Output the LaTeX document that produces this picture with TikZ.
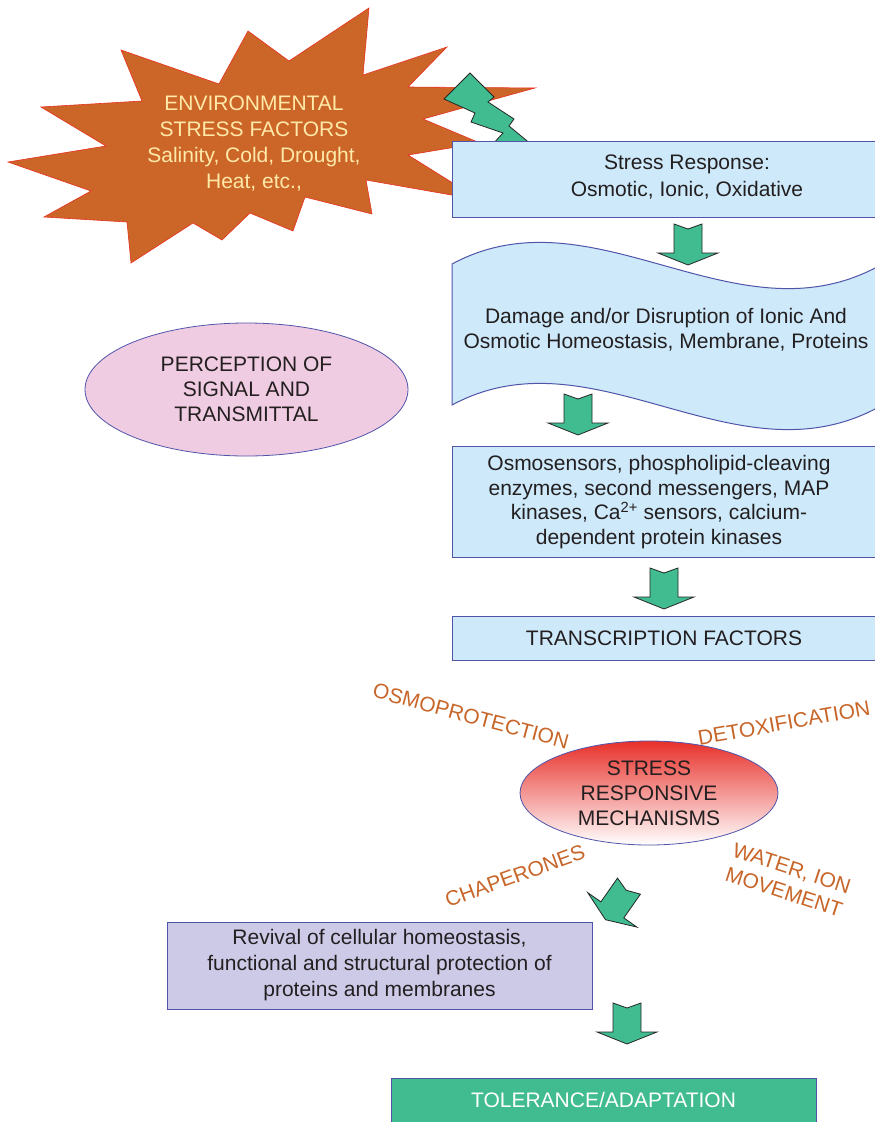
\documentclass[tikz,border=0pt]{standalone}
\usepackage{fontspec}
\setmainfont{Liberation Sans}
\usetikzlibrary{shapes.geometric}
\definecolor{boxblue}{RGB}{205,233,250}
\definecolor{edgeblue}{RGB}{80,85,170}
\definecolor{arrowgreen}{RGB}{64,188,144}
\definecolor{burst}{RGB}{204,102,40}
\definecolor{burstedge}{RGB}{232,48,32}
\definecolor{bursttext}{RGB}{255,233,168}
\definecolor{labelorange}{RGB}{200,102,42}
\definecolor{pinkfill}{RGB}{240,204,226}
\definecolor{lavender}{RGB}{205,202,232}
\definecolor{textgray}{RGB}{35,31,32}
\definecolor{gradred}{RGB}{232,48,42}
\definecolor{gradmid}{RGB}{243,150,125}
\tikzset{
  txt/.style={align=center, text=textgray, font=\fontsize{21}{25}\selectfont, inner sep=0pt},
  bluebox/.style={draw=edgeblue, fill=boxblue, line width=1pt, inner sep=0pt},
  blockarrow/.style={draw=black!85, fill=arrowgreen, line width=0.8pt, line join=miter},
  lbl/.style={text=labelorange, font=\fontsize{21}{25}\selectfont, align=center, inner sep=0pt},
}
\newcommand{\greenarrow}[3]{%
  \draw[blockarrow, shift={(#1,#2)}, rotate=#3]
    (-14,-20) -- (0,-15) -- (14,-20) -- (14,9) -- (30,9) -- (0,21) -- (-30,9) -- (-14,9) -- cycle;}
\begin{document}
\begin{tikzpicture}[x=1pt,y=-1pt]
\useasboundingbox (0,0) rectangle (875,1122);
\clip (0,0) rectangle (875,1122);
\fill[white] (0,0) rectangle (875,1122);

% starburst
\draw[fill=burst, draw=burstedge, line width=0.6pt]
  (369,8) -- (363,75) -- (447,47) -- (408,87) -- (535,88) -- (423,119) -- (480,143)
  -- (408,155) -- (480,200) -- (366,180) -- (372,214) -- (305,197) -- (293,231)
  -- (250,213) -- (222,240) -- (193,223) -- (131,263) -- (127,222) -- (44,217)
  -- (91,191) -- (8,162) -- (106,146) -- (41,107) -- (142,101) -- (121,50)
  -- (219,84) -- (248,31) -- (289,61) -- cycle;
\node[txt, text=bursttext, font=\fontsize{21}{26}\selectfont] (env) at (254,144)
  {ENVIRONMENTAL\\STRESS FACTORS\\Salinity, Cold, Drought,\\Heat, etc.,};

% lightning
\draw[blockarrow] (470,73) -- (494,97) -- (488,102) -- (514,119) -- (509,126) -- (532,145)
  -- (492,145) -- (503,133) -- (471,122) -- (475,113) -- (444,99) -- cycle;

% stress response box
\node[bluebox, anchor=north west, minimum width=430, minimum height=76] (resp) at (452,141) {};
\node[txt, font=\fontsize{21}{27}\selectfont] (resptxt) at (687,177) {Stress Response:\\Osmotic, Ionic, Oxidative};

% banner
\draw[fill=boxblue, draw=edgeblue, line width=1pt]
  (452,264) .. controls (593,188) and (734,343) .. (877,267) -- (877,408)
  .. controls (734,484) and (593,329) .. (452,405) -- cycle;
\node[txt] (dmg) at (666,330) {Damage and/or Disruption of Ionic And\\Osmotic Homeostasis, Membrane, Proteins};

% perception ellipse
\node[ellipse, draw=edgeblue, fill=pinkfill, line width=0.8pt, minimum width=323, minimum height=133, txt] (perc) at (246.5,389.5)
  {PERCEPTION OF\\SIGNAL AND\\TRANSMITTAL};

% sensors box
\node[bluebox, anchor=north west, minimum width=430, minimum height=111] (sens) at (452,446) {};
\node[txt, font=\fontsize{21}{24.7}\selectfont] (senstxt) at (659,502)
  {Osmosensors, phospholipid-cleaving\\enzymes, second messengers, MAP\\kinases, Ca\textsuperscript{2+} sensors, calcium-\\dependent protein kinases};

% transcription factors
\node[bluebox, anchor=north west, minimum width=430, minimum height=44] (tf) at (452,616) {};
\node[txt] (tftxt) at (664,638) {TRANSCRIPTION FACTORS};

% stress responsive mechanisms
\node[ellipse, draw=edgeblue, line width=0.8pt, top color=gradred, middle color=gradmid, bottom color=white,
  minimum width=258, minimum height=104, txt] (srm) at (649,793) {STRESS\\RESPONSIVE\\MECHANISMS};

% labels
\node[lbl, rotate=-15] (osmo) at (471,716) {OSMOPROTECTION};
\node[lbl, rotate=10] (detox) at (784,723) {DETOXIFICATION};
\node[lbl, rotate=20] (chap) at (515,876) {CHAPERONES};
\node[lbl, rotate=-18] (water) at (788,880) {WATER, ION\\MOVEMENT};

% revival box
\node[draw=edgeblue, fill=lavender, line width=1pt, minimum width=425, minimum height=87, txt, font=\fontsize{21}{26}\selectfont] (rev) at (379.5,965.5)
  {Revival of cellular homeostasis,\\functional and structural protection of\\proteins and membranes};

% tolerance box
\node[draw=edgeblue, fill=arrowgreen, line width=1pt, inner sep=0pt, minimum width=425, minimum height=52] (tol) at (603.5,1104) {};
\node[txt, text=white] (toltxt) at (603.5,1100) {TOLERANCE/ADAPTATION};

% green block arrows
\greenarrow{688}{244}{0}
\greenarrow{578}{414}{0}
\greenarrow{664}{588}{0}
\greenarrow{617.5}{902.5}{-35}
\greenarrow{627}{1023}{0}
\end{tikzpicture}
\end{document}
